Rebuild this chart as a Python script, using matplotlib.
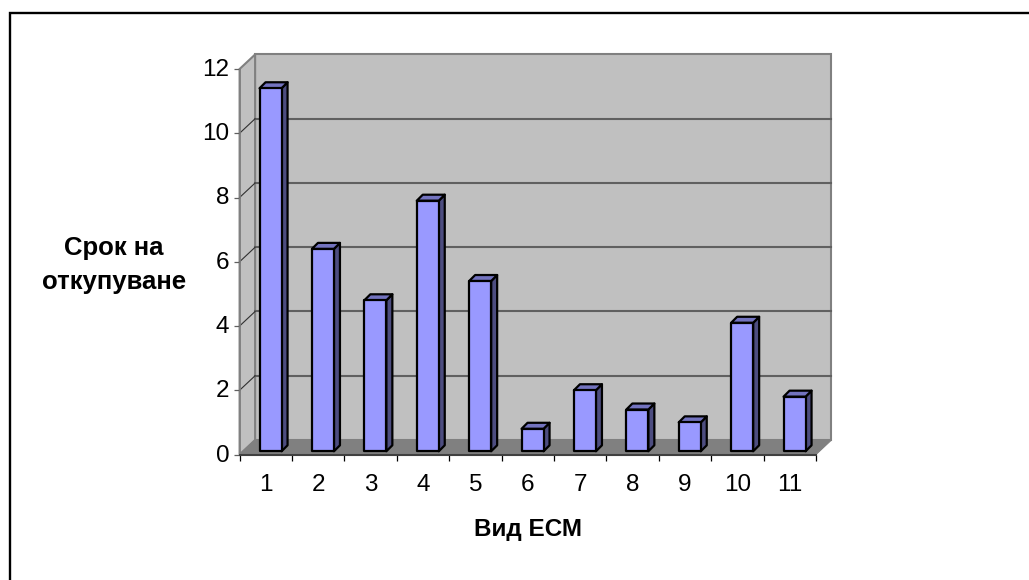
"""Срок на откупуване по вид ЕСМ: Excel-style 3D column chart."""
import matplotlib
matplotlib.use("Agg")
import matplotlib.pyplot as plt
from matplotlib.lines import Line2D
from matplotlib.patches import Polygon
from matplotlib.transforms import ScaledTranslation

plt.rcParams["font.family"] = ["Liberation Sans", "DejaVu Sans"]

# ---- data ----
categories = ["1", "2", "3", "4", "5", "6", "7", "8", "9", "10", "11"]
values = [11.3, 6.3, 4.7, 7.8, 5.3, 0.7, 1.9, 1.3, 0.9, 4.0, 1.7]
y_ticks = [0, 2, 4, 6, 8, 10, 12]

# ---- palette ----
WALL = "#c0c0c0"
FLOOR = "#808080"
WALL_EDGE = "#808080"
GRID = "#606060"
FRONT = "#9999ff"
SIDE = "#4d4d80"
TOP = "#7373bf"

W, H = 1029, 580
fig = plt.figure(figsize=(W / 100, H / 100), dpi=100, facecolor="white")
ax = fig.add_axes([239.6 / W, 1 - 454.5 / H, 576.4 / W, 385.5 / H])
ax.set_xlim(0, len(values))
ax.set_ylim(0, 12)
ax.patch.set_visible(False)

# depth of the 3D box and of the columns, in data units
DX, DY = 15.5 / 52.4, 14.5 / 32.1
BAR_W = 0.42
BAR_DX, BAR_DY = 6 / 52.4, 6 / 32.1
OFF_X, OFF_Y = 0.5 * (DX - BAR_DX), 0.1


def poly(pts, **kw):
    ax.add_patch(Polygon(pts, closed=True, clip_on=False, **kw))


n = len(values)
top = y_ticks[-1]
# walls and floor
poly([(DX, DY), (n + DX, DY), (n + DX, top + DY), (DX, top + DY)],
     facecolor=WALL, edgecolor=WALL_EDGE, linewidth=1.5, zorder=1)
poly([(0, 0), (DX, DY), (DX, top + DY), (0, top)],
     facecolor=WALL, edgecolor=WALL_EDGE, linewidth=1.5, zorder=1)
poly([(0, 0), (n, 0), (n + DX, DY), (DX, DY)],
     facecolor=FLOOR, edgecolor=FLOOR, linewidth=0.8, zorder=2)

# gridlines: along the back wall, then diagonal on the side wall
for t in y_ticks[1:-1]:
    ax.plot([DX, n + DX], [t + DY, t + DY], color=GRID, lw=1.5, clip_on=False, zorder=2)
    ax.plot([0, DX], [t, t + DY], color="#303030", lw=0.8, clip_on=False, zorder=2)

# columns
for i, v in enumerate(values):
    x0 = i + 0.5 - BAR_W / 2 + OFF_X
    x1 = x0 + BAR_W
    y0, y1 = OFF_Y, v + OFF_Y
    style = dict(edgecolor="black", linewidth=1.6, joinstyle="round", zorder=5)
    poly([(x1, y0), (x1 + BAR_DX, y0 + BAR_DY), (x1 + BAR_DX, y1 + BAR_DY), (x1, y1)], facecolor=SIDE, **style)
    poly([(x0, y1), (x1, y1), (x1 + BAR_DX, y1 + BAR_DY), (x0 + BAR_DX, y1 + BAR_DY)], facecolor=TOP, **style)
    poly([(x0, y0), (x1, y0), (x1, y1), (x0, y1)], facecolor=FRONT, **style)

# axes
for s in ["top", "right"]:
    ax.spines[s].set_visible(False)
ax.spines["left"].set_color(WALL_EDGE)
ax.spines["left"].set_linewidth(1.2)
ax.spines["bottom"].set_color("#404040")
ax.spines["bottom"].set_linewidth(1.5)
ax.spines["left"].set_zorder(3)
ax.spines["bottom"].set_zorder(3)

ax.set_yticks(y_ticks)
ax.set_xticks(range(n + 1))
ax.set_xticklabels([])
ax.tick_params(axis="y", length=4, width=0.9, color="#606060", labelsize=17.5, pad=3.5, labelcolor="black")
ax.tick_params(axis="x", length=4.3, width=0.9, color="black", direction="out")
# y labels sit slightly above their ticks in the original
lift = ScaledTranslation(0, 1.5 / 100, fig.dpi_scale_trans)
for lab in ax.get_yticklabels():
    lab.set_transform(lab.get_transform() + lift)
for i, c in enumerate(categories):
    ax.annotate(c, xy=(i + 0.5, 0), xytext=(0, -22), textcoords="offset points",
                ha="center", va="center", fontsize=17.5, color="black", annotation_clip=False)

# axis titles
fig.text(114 / W, 1 - 255 / H, "Срок на", ha="center", va="baseline", fontsize=18.5, fontweight="bold")
fig.text(114 / W, 1 - 289 / H, "откупуване", ha="center", va="baseline", fontsize=18.5, fontweight="bold")
fig.text(528 / W, 1 - 536 / H, "Вид ЕСМ", ha="center", va="baseline", fontsize=17.5, fontweight="bold")

# chart frame: only the top and left edges fall inside the picture
fig.add_artist(Line2D([9.5 / W, 9.5 / W, 1], [0, 1 - 13 / H, 1 - 13 / H], transform=fig.transFigure,
                      color="black", linewidth=1.7, solid_joinstyle="miter"))

fig.savefig("out.png", dpi=100, facecolor="white")
